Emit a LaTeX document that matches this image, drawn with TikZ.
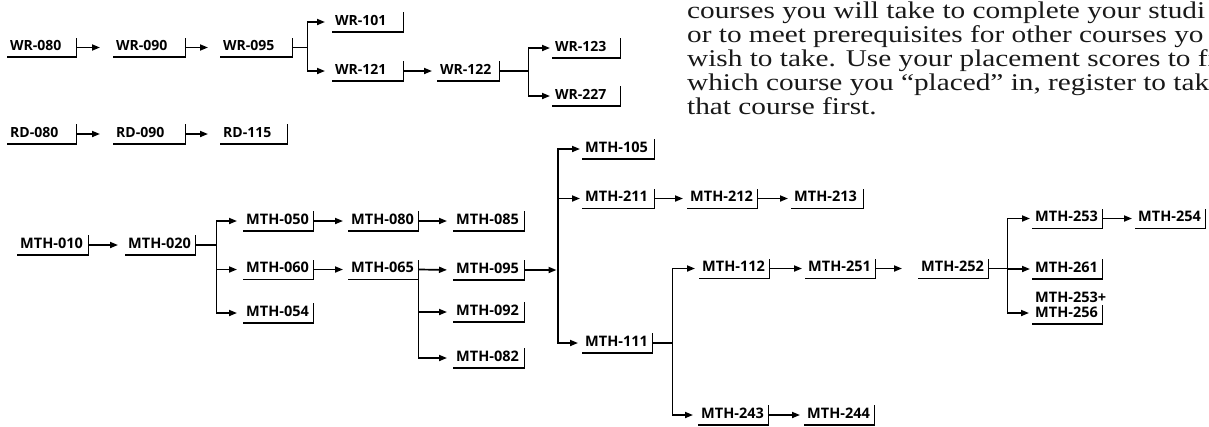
\documentclass[tikz,border=0pt]{standalone}
\usepackage{fontspec}
\setmainfont{Liberation Serif}
\newfontfamily\crsfamily{Open Sans}
\newfontfamily\parafont{Liberation Serif}[FakeStretch=1.22]
\usetikzlibrary{arrows.meta,calc}
\exhyphenpenalty=10000
\hyphenpenalty=10000
\begin{document}
\begin{tikzpicture}[x=1pt,y=-1pt,
  crs/.style={font=\crsfamily\bfseries\fontsize{14.5}{15}\selectfont, anchor=west,
    inner xsep=3pt, inner ysep=2.5pt, text height=10.5pt, text depth=4pt,
    align=left, text width=#1},
  crs/.default=64pt,
  wrs/.style={font=\crsfamily\bfseries\fontsize{14}{15}\selectfont, anchor=west,
    inner xsep=3pt, inner ysep=2.5pt, text height=10pt, text depth=4pt,
    align=left, text width=#1},
  wrs/.default=64pt,
  boxln/.style={line width=1.8pt},
  arr/.style={-{Triangle[length=8pt,width=6pt]}, line width=1.7pt, shorten >=#1},
  arr/.default=4pt,
  para/.style={font=\parafont\fontsize{24}{26}\selectfont, anchor=base west, inner sep=0pt, text=black!90}
]
\useasboundingbox (0,0) rectangle (1209,426);
\clip (0,0) rectangle (1209,426);

% paragraph
\node[para] (p1) at (687,18) {courses you will take to complete your studi};
\node[para] (p2) at (687,42.2) {or to meet prerequisites for other courses yo};
\node[para] (p3) at (687,66.4) {wish to take. Use your placement scores to fi};
\node[para] (p4) at (687,90.6) {which course you “placed” in, register to tak};
\node[para] (p5) at (687,114.8) {that course first.};

% WR
\node[wrs=63pt] (w080) at (7,47.5) {WR-080};
\node[wrs=66pt] (w090) at (113,47.5) {WR-090};
\node[wrs=66pt] (w095) at (220,47.5) {WR-095};
\node[wrs=65pt] (w101) at (332,22) {WR-101};
\node[wrs=65pt] (w121) at (332,71) {WR-121};
\node[wrs=56pt] (w122) at (437,71) {WR-122};
\node[wrs=62pt] (w123) at (552,48) {WR-123};
\node[wrs=62pt] (w227) at (552,96) {WR-227};
% RD
\node[wrs=63pt] (r080) at (7,134) {RD-080};
\node[wrs=66pt] (r090) at (113,134) {RD-090};
\node[wrs=61pt] (r115) at (220,134) {RD-115};

% MTH
\node[crs=65pt] (m010) at (17,245) {MTH-010};
\node[crs] (m020) at (125,245) {MTH-020};
\node[crs] (m050) at (243,221) {MTH-050};
\node[crs] (m060) at (243,269.5) {MTH-060};
\node[crs] (m054) at (243,313) {MTH-054};
\node[crs] (m080) at (348,221) {MTH-080};
\node[crs] (m065) at (348,269.5) {MTH-065};
\node[crs=65pt] (m085) at (453,221) {MTH-085};
\node[crs=65pt] (m095) at (453,270) {MTH-095};
\node[crs=65pt] (m092) at (453,312) {MTH-092};
\node[crs=65pt] (m082) at (453,358) {MTH-082};
\node[crs=66pt] (m105) at (582,149) {MTH-105};
\node[crs=66pt] (m211) at (582,198.5) {MTH-211};
\node[crs] (m212) at (687,198.5) {MTH-212};
\node[crs=66pt] (m213) at (791,198.5) {MTH-213};
\node[crs] (m111) at (582,343) {MTH-111};
\node[crs] (m112) at (699,268.5) {MTH-112};
\node[crs] (m251) at (805,268.5) {MTH-251};
\node[crs] (m252) at (918,268.5) {MTH-252};
\node[crs] (m253) at (1032,218.5) {MTH-253};
\node[crs] (m254) at (1135,218.5) {MTH-254};
\node[crs] (m261) at (1032,269) {MTH-261};
\node[crs, text depth=19pt, anchor=south west] (m256) at (1032,324) {MTH-253+\\MTH-256};
\node[crs] (m243) at (698,415) {MTH-243};
\node[crs] (m244) at (804,415) {MTH-244};

% box brackets
\foreach \n in {w080,w090,w095,w101,w121,w122,w123,w227,r080,r090,r115,
  m010,m020,m050,m060,m054,m080,m065,m085,m095,m092,m082,m105,m211,m212,m213,
  m111,m112,m251,m252,m253,m254,m261,m243,m244}
  \draw[boxln] (\n.south west) -- (\n.south east) -- (\n.north east);
\draw[boxln] (m256.south west) -- (m256.south east) -- ++(0,-19.5);

% WR connectors
\draw[arr=13pt] (w080.east) -- (w090.west);
\draw[arr=12pt] (w090.east) -- (w095.west);
\draw[arr=7pt] (w095.east) -- ++(15,0) |- (w101.west);
\draw[arr=7pt] (w095.east) -- ++(15,0) |- (w121.west);
\draw[arr=5pt] (w121.east) -- (w122.west);
\draw[arr=2pt] (w122.east) -- ++(29,0) |- (w123.west);
\draw[arr=2pt] (w122.east) -- ++(29,0) |- (w227.west);
% RD connectors
\draw[arr=13pt] (r080.east) -- (r090.west);
\draw[arr=12pt] (r090.east) -- (r115.west);

% MTH connectors
\draw[arr=7pt] (m010.east) -- (m020.west);
\draw[arr=6pt] (m020.east) -- ++(21,0) |- (m050.west);
\draw[arr=6pt] (m020.east) -- ++(21,0) |- (m060.west);
\draw[arr=6pt] (m020.east) -- ++(21,0) |- (m054.west);
\draw[arr=5pt] (m050.east) -- (m080.west);
\draw[arr=5pt] (m060.east) -- (m065.west);
\draw[arr=6pt] (m080.east) -- (m085.west);
\draw[arr=6pt] (m065.east) -- (m095.west);
\draw[arr=6pt] (m065.south east) |- (m092.west);
\draw[arr=6pt] (m065.south east) |- (m082.west);
\coordinate (bv) at (558,270);
\draw[arr=1.5pt] (m095.east) -- (bv);
\draw[arr=2pt] (bv) |- (m105.west);
\draw[arr=2pt] (bv) |- (m211.west);
\draw[arr=4pt] (bv) |- (m111.west);
\draw[arr=4pt] (m211.east) -- (m212.west);
\draw[arr=3pt] (m212.east) -- (m213.west);
\draw[arr=4pt] (m111.east) -- ++(20,0) |- (m112.west);
\draw[arr=5pt] (m111.east) -- ++(20,0) |- (m243.west);
\draw[arr=3pt] (m112.east) -- (m251.west);
\draw[arr=16pt] (m251.east) -- (m252.west);
\draw[arr=2pt] (m252.east) -- ++(19,0) |- (m253.west);
\draw[arr=2pt] (m252.east) -- ++(19,0) |- (m261.west);
\draw[arr=3pt] (m252.east) -- ++(19,0) |- ($(m256.south west)+(0,-11)$);
\draw[arr=3pt] (m253.east) -- (m254.west);
\draw[arr=4pt] (m243.east) -- (m244.west);
\end{tikzpicture}
\end{document}
